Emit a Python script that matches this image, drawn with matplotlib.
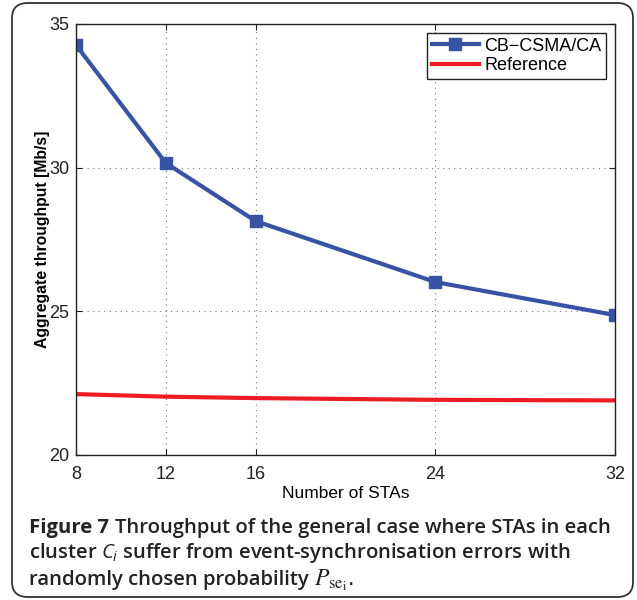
import matplotlib
matplotlib.use("Agg")
import matplotlib.pyplot as plt
from matplotlib.patches import FancyBboxPatch

stas = [8, 12, 16, 24, 32]
cb_csma = [34.27, 30.16, 28.14, 26.02, 24.87]
reference = [22.12, 22.03, 21.98, 21.92, 21.90]
xticks = [8, 12, 16, 24, 32]
yticks = [20, 25, 30, 35]

plt.rcParams['font.family'] = ['Liberation Sans', 'DejaVu Sans']
plt.rcParams['mathtext.fontset'] = 'custom'
plt.rcParams['mathtext.it'] = 'Open Sans:italic'
plt.rcParams['mathtext.rm'] = 'Open Sans'

W, H = 637, 600
fig = plt.figure(figsize=(W / 100, H / 100), dpi=100)

# rounded frame round the whole figure
frame = FancyBboxPatch((12 / W, 3 / H), 621 / W, 594 / H,
                       boxstyle="round,pad=0,rounding_size=0.025",
                       transform=fig.transFigure, fill=False,
                       edgecolor='#333333', linewidth=1.3)
fig.patches.append(frame)

ax = fig.add_axes([76 / W, 1 - 455 / H, (615 - 76) / W, (455 - 24) / H])
ax.plot(stas, cb_csma, '-s', color='#3953A4', linewidth=3, markersize=8,
        label='CB\u2212CSMA/CA')
ax.plot(stas, reference, '-', color='#ED1C24', linewidth=3, label='Reference')

ax.set_xlim(8, 32)
ax.set_ylim(20, 35)
ax.set_xticks(xticks)
ax.set_yticks(yticks)
ax.tick_params(direction='in', top=True, right=True, labelsize=13, length=4,
               width=0.8, colors='#222222', pad=5)
ax.tick_params(axis='x', pad=8)
ax.grid(True, linestyle=(0, (1, 4)), color='#777777', linewidth=0.8)
for s in ax.spines.values():
    s.set_linewidth(1.0)
    s.set_color('#222222')

ax.set_xlabel('Number of STAs', fontsize=12.5, labelpad=2)
ax.set_ylabel('Aggregate throughput [Mb/s]', fontsize=11.3, fontweight='bold',
              labelpad=-1)

leg = ax.legend(loc='upper right', fontsize=13, fancybox=False,
                edgecolor='#222222', framealpha=1, handlelength=2.6,
                handletextpad=0.3, borderaxespad=0.5, borderpad=0.25,
                labelspacing=0.15)
leg.get_frame().set_linewidth(1.0)

# caption
cap = dict(fontsize=14.6, family=['Open Sans', 'DejaVu Sans'], color='#222222',
           va='center', ha='left')
t1 = fig.text(29 / W, 1 - 528 / H, 'Figure 7', fontweight='bold', **cap)
t3 = fig.text(29 / W, 1 - 585 / H, 'randomly chosen probability ',
              fontweight='semibold', fontsize=14.6,
              family=['Open Sans', 'DejaVu Sans'], color='#222222',
              va='baseline', ha='left')
fig.canvas.draw()
bb = t1.get_window_extent()
fig.text(bb.x1 / W + 6 / W, 1 - 528 / H,
         'Throughput of the general case where STAs in each',
         fontweight='semibold', **cap)
fig.text(29 / W, 1 - 553 / H,
         r'cluster $C_i$ suffer from event-synchronisation errors with',
         fontweight='semibold', math_fontfamily='custom', **cap)
bb3 = t3.get_window_extent()
fig.text(bb3.x1 / W, 1 - 585 / H, r'$P_{\mathrm{se}_{\mathrm{i}}}$.',
         fontsize=17, color='#222222', va='baseline', ha='left',
         math_fontfamily='stix')

fig.savefig('out.png', dpi=100)
